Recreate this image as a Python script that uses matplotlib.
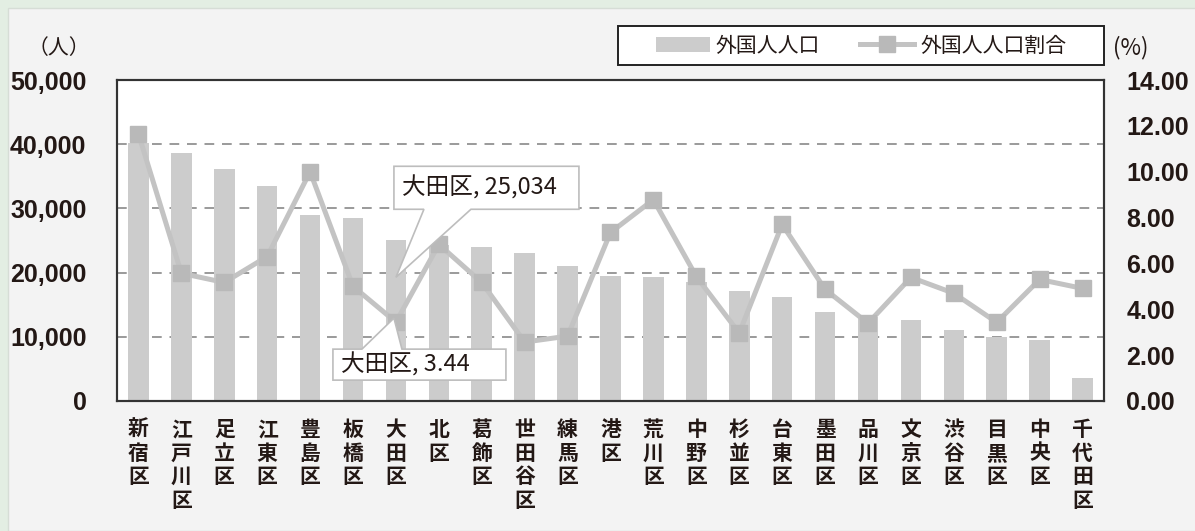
import numpy as np
import matplotlib
matplotlib.use("Agg")
import matplotlib.pyplot as plt
from matplotlib.patches import Rectangle, Polygon
from matplotlib.transforms import IdentityTransform

# data
wards = ["新宿区", "江戸川区", "足立区", "江東区", "豊島区", "板橋区", "大田区", "北区",
         "葛飾区", "世田谷区", "練馬区", "港区", "荒川区", "中野区", "杉並区", "台東区",
         "墨田区", "品川区", "文京区", "渋谷区", "目黒区", "中央区", "千代田区"]
foreign_pop = [40200, 38600, 36200, 33500, 29000, 28500, 25034, 24300,
               24000, 23100, 21000, 19400, 19300, 18500, 17100, 16200,
               13900, 13100, 12600, 11000, 9900, 9500, 3600]
foreign_ratio = [11.65, 5.57, 5.17, 6.30, 10.00, 5.00, 3.44, 6.83,
                 5.17, 2.57, 2.83, 7.35, 8.78, 5.43, 2.96, 7.70,
                 4.87, 3.39, 5.39, 4.70, 3.43, 5.30, 4.91]
left_ticks = [0, 10000, 20000, 30000, 40000, 50000]
right_ticks = [0, 2, 4, 6, 8, 10, 12, 14]

W, H = 1195, 531
JP = "Noto Sans CJK JP"
NUM = "Liberation Sans"

fig = plt.figure(figsize=(W / 100, H / 100), dpi=100)
fig.patch.set_facecolor("#e3eee3")
fig.add_artist(Rectangle((8 / W, 0), 1, 1 - 8 / H, transform=fig.transFigure,
                         facecolor="#f3f3f3", edgecolor="#d6ddd6", lw=1, zorder=-10))

ax = fig.add_axes([117 / W, 1 - 401 / H, (1104 - 117) / W, (401 - 80) / H])
ax.set_facecolor("white")
x = np.arange(len(wards))

bars = ax.bar(x, foreign_pop, width=0.48, color="#cccccc", zorder=2, label="外国人人口")
ax.set_xlim(-0.5, len(wards) - 0.5)
ax.set_ylim(0, 50000)
ax.set_yticks(left_ticks)
ax.set_yticklabels([f"{v:,}" for v in left_ticks], fontfamily=NUM, fontweight="bold",
                   fontsize=18, color="#231815")
ax.yaxis.grid(True, linestyle=(0, (5, 4)), color="#9a9a9a", lw=1.4)
ax.set_axisbelow(True)
ax.tick_params(axis="y", length=0, pad=22)
ax.set_xticks(x)
ax.set_xticklabels(["\n".join(w) for w in wards], fontfamily=JP, fontweight="bold",
                   fontsize=15, color="#231815", linespacing=1.15, va="top")
ax.tick_params(axis="x", length=0, pad=13)

ax2 = ax.twinx()
line, = ax2.plot(x, foreign_ratio, color="#c3c3c3", lw=3.6, marker="s", markersize=11,
                 markerfacecolor="#b9b9b9", markeredgecolor="#b9b9b9", zorder=3,
                 label="外国人人口割合")
ax2.set_ylim(0, 14)
ax2.set_yticks(right_ticks)
ax2.set_yticklabels([f"{v:.2f}" for v in right_ticks], fontfamily=NUM, fontweight="bold",
                    fontsize=18, color="#231815")
ax2.tick_params(axis="y", length=0, pad=16)

for a in (ax, ax2):
    for s in a.spines.values():
        s.set_color("#333333")
        s.set_linewidth(1.5)

# unit labels
fig.text(59 / W, 1 - 48 / H, "（人）", fontfamily=JP, fontsize=15, ha="center", va="center",
         color="#231815")
fig.text(1131 / W, 1 - 48 / H, "(%)", fontfamily=JP, fontsize=16, ha="center", va="center",
         color="#231815")

# legend
fig.add_artist(Rectangle((618 / W, 1 - 65 / H), 486 / W, 39 / H, transform=fig.transFigure,
                         facecolor="white", edgecolor="#222222", lw=1.4, zorder=5))
leg = fig.legend([bars, line], ["外国人人口", "外国人人口割合"], loc="center",
                 bbox_to_anchor=(861 / W, 1 - 45.5 / H), bbox_transform=fig.transFigure,
                 ncol=2, frameon=False, prop={"family": JP, "size": 15},
                 handlelength=2.6, handletextpad=0.3, columnspacing=1.9)
leg.set_zorder(6)
for t in leg.get_texts():
    t.set_color("#231815")


def callout(anchor, box, wedge, tip, text):
    # anchor in display px; offsets in image px (y downwards)
    ax0, ay0 = anchor
    bx0, bx1, by0, by1 = box
    w0, w1, wy = wedge
    tx, ty = tip

    def P(dx, dy):
        return (ax0 + dx, ay0 - dy)

    if wy == by1:  # wedge on bottom edge
        pts = [P(bx0, by0), P(bx1, by0), P(bx1, by1), P(w1, by1), P(tx, ty),
               P(w0, by1), P(bx0, by1)]
    else:  # wedge on top edge
        pts = [P(bx0, by0), P(w0, by0), P(tx, ty), P(w1, by0), P(bx1, by0),
               P(bx1, by1), P(bx0, by1)]
    fig.add_artist(Polygon(pts, closed=True, transform=IdentityTransform(),
                           facecolor="white", edgecolor="#bdbdbd", lw=1.2, zorder=7))
    fig.text(ax0 + bx0 + 8, ay0 - (by0 + by1) / 2, text, transform=IdentityTransform(),
             fontfamily=JP, fontsize=17, va="center", ha="left", color="#231815", zorder=8)


i = wards.index("大田区")
fig.canvas.draw()
p1 = ax.transData.transform((i, foreign_pop[i]))
callout(p1, (-2, 183, -74, -31), (28, 75, -31), (0, 37), f"{wards[i]}, {foreign_pop[i]:,}")
p2 = ax2.transData.transform((i, foreign_ratio[i]))
callout(p2, (-63, 110, 27, 58), (-34, 6, 27), (-2, -4), f"{wards[i]}, {foreign_ratio[i]:.2f}")

fig.savefig("out.png", dpi=100, facecolor=fig.get_facecolor())
